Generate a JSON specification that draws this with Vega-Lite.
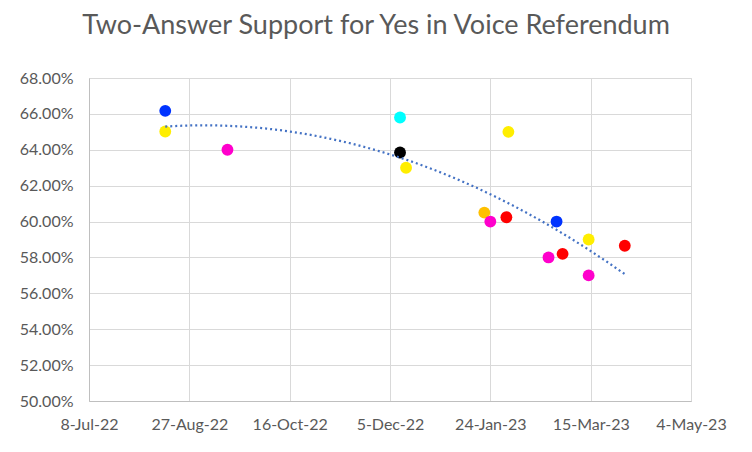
{
  "$schema": "https://vega.github.io/schema/vega-lite/v6.json",
  "width": 602,
  "height": 323,
  "autosize": {"type": "none"},
  "padding": {"left": 89, "top": 78, "right": 61, "bottom": 51},
  "background": "white",
  "title": {
    "text": "Two-Answer Support for Yes in Voice Referendum",
    "font": "Lato",
    "fontSize": 27,
    "fontWeight": "normal",
    "color": "#595959",
    "anchor": "middle",
    "frame": "group",
    "dx": -14,
    "offset": 30
  },
  "data": {
    "values": [
      {"date": "2022-08-15T00:00", "support": 0.6617, "pollster": "A"},
      {"date": "2022-08-15T00:00", "support": 0.6502, "pollster": "B"},
      {"date": "2022-09-15T00:00", "support": 0.640, "pollster": "C"},
      {"date": "2022-12-10T00:00", "support": 0.658, "pollster": "D"},
      {"date": "2022-12-10T00:00", "support": 0.6385, "pollster": "E"},
      {"date": "2022-12-13T00:00", "support": 0.630, "pollster": "B"},
      {"date": "2023-01-21T00:00", "support": 0.605, "pollster": "F"},
      {"date": "2023-01-24T00:00", "support": 0.600, "pollster": "C"},
      {"date": "2023-02-01T00:00", "support": 0.6024, "pollster": "G"},
      {"date": "2023-02-02T00:00", "support": 0.650, "pollster": "B"},
      {"date": "2023-02-22T00:00", "support": 0.580, "pollster": "C"},
      {"date": "2023-02-26T00:00", "support": 0.600, "pollster": "A"},
      {"date": "2023-03-01T00:00", "support": 0.582, "pollster": "G"},
      {"date": "2023-03-14T00:00", "support": 0.590, "pollster": "B"},
      {"date": "2023-03-14T00:00", "support": 0.570, "pollster": "C"},
      {"date": "2023-04-01T00:00", "support": 0.5865, "pollster": "G"}
    ]
  },
  "encoding": {
    "x": {
      "field": "date",
      "type": "temporal",
      "title": null,
      "scale": {
        "domain": [
          {"year": 2022, "month": 7, "date": 8},
          {"year": 2023, "month": 5, "date": 4}
        ],
        "nice": false
      },
      "axis": {
        "values": [
          {"year": 2022, "month": 7, "date": 8},
          {"year": 2022, "month": 8, "date": 27},
          {"year": 2022, "month": 10, "date": 16},
          {"year": 2022, "month": 12, "date": 5},
          {"year": 2023, "month": 1, "date": 24},
          {"year": 2023, "month": 3, "date": 15},
          {"year": 2023, "month": 5, "date": 4}
        ],
        "format": "%-d-%b-%y",
        "labelPadding": 15,
        "labelFlush": false
      }
    },
    "y": {
      "field": "support",
      "type": "quantitative",
      "title": null,
      "scale": {"domain": [0.5, 0.68], "nice": false, "zero": false},
      "axis": {
        "values": [0.5, 0.52, 0.54, 0.56, 0.58, 0.6, 0.62, 0.64, 0.66, 0.68],
        "format": ".2%",
        "labelPadding": 16
      }
    }
  },
  "layer": [
    {
      "mark": {"type": "circle", "size": 140, "opacity": 1},
      "encoding": {
        "color": {
          "field": "pollster",
          "type": "nominal",
          "legend": null,
          "scale": {
            "domain": ["A", "B", "C", "D", "E", "F", "G"],
            "range": ["#0033ff", "#ffee00", "#ff00cc", "#00ffff", "#000000", "#ffc000", "#ff0000"]
          }
        }
      }
    },
    {
      "transform": [
        {"regression": "support", "on": "date", "method": "poly", "order": 2}
      ],
      "mark": {"type": "line", "color": "#4472c4", "strokeWidth": 2.25, "strokeDash": [2, 3]}
    }
  ],
  "config": {
    "view": {"stroke": "#d9d9d9"},
    "axis": {
      "labelFont": "Lato",
      "labelFontSize": 16,
      "labelColor": "#595959",
      "ticks": false,
      "domainColor": "#bfbfbf",
      "gridColor": "#d9d9d9",
      "gridWidth": 1
    }
  }
}
